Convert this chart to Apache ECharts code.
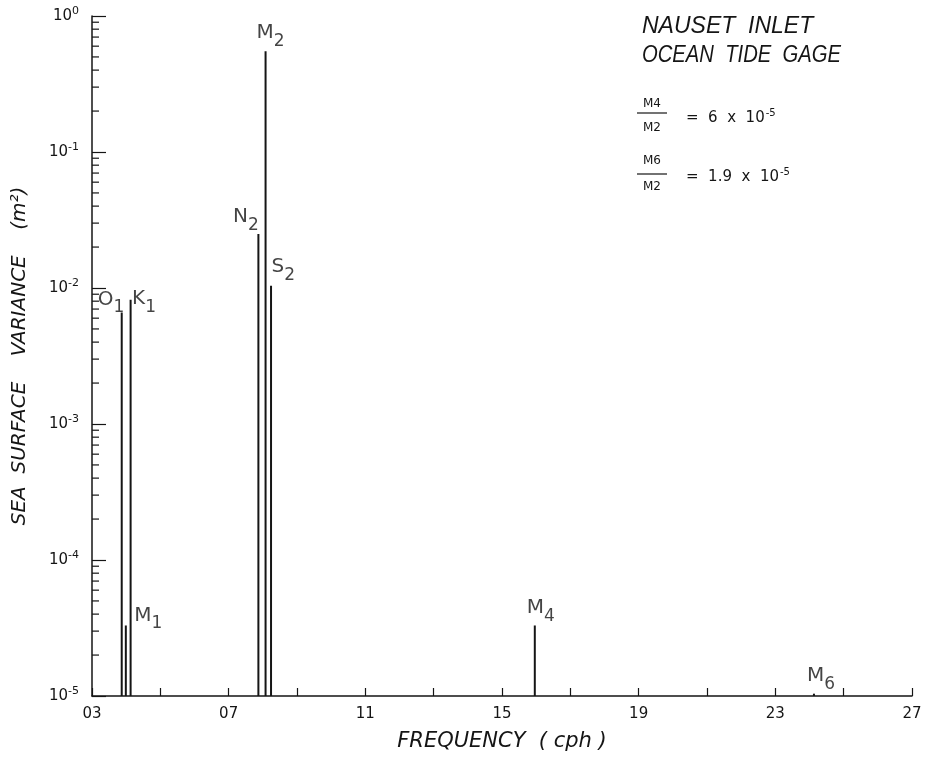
<!DOCTYPE html>
<html>
<head>
<meta charset="utf-8">
<script src="https://cdn.jsdelivr.net/npm/echarts@6/dist/echarts.min.js"></script>
<style>
  html, body { margin: 0; padding: 0; background: #fff; }
  #chart { width: 933px; height: 757px; }
</style>
</head>
<body>
<div id="chart"></div>
<script>
// tidal constituents (frequency in 10^-2 cph, variance in m^2)
var constituents = ['O1', 'M1', 'K1', 'N2', 'M2', 'S2', 'M4', 'M6'];
var frequencies = [3.87, 3.99, 4.13, 7.87, 8.08, 8.24, 15.96, 24.13];
var variances = [6.6e-3, 3.3e-5, 8.2e-3, 2.5e-2, 5.5e-1, 1.04e-2, 3.3e-5, 1.04e-5];

var xLabelValues = [3, 7, 11, 15, 19, 23, 27];
var yDecades = [-5, -4, -3, -2, -1, 0];

var yMin = 1e-5;
var ink = '#151515';
var font = 'DejaVu Sans';

// where each constituent label sits relative to the top of its line
var labelPlace = {
  O1: { position: 'left', distance: 0, offset: [3, -13] },
  M1: { position: 'right', distance: 8, offset: [0, -10] },
  K1: { position: 'right', distance: 1, offset: [0, -1] },
  N2: { position: 'left', distance: 0, offset: [1, -17] },
  M2: { position: 'top', distance: 1, offset: [5, 0] },
  S2: { position: 'right', distance: 0, offset: [0, -19] },
  M4: { position: 'top', distance: 0, offset: [6, 0] },
  M6: { position: 'top', distance: 0, offset: [7, 0] }
};

var lineData = [];
var labelData = [];
for (var i = 0; i < constituents.length; i++) {
  lineData.push([frequencies[i], variances[i]]);
  var name = constituents[i];
  var p = labelPlace[name];
  labelData.push({
    value: [frequencies[i], variances[i]],
    label: {
      position: p.position,
      distance: p.distance,
      offset: p.offset,
      formatter: '{m|' + name.charAt(0) + '}{s|' + name.substring(1) + '}'
    }
  });
}

// minor log ticks 2..9 in each decade
var minorTicks = [];
for (var d = 0; d < yDecades.length - 1; d++) {
  for (var k = 2; k <= 9; k++) {
    minorTicks.push([3, k * Math.pow(10, yDecades[d])]);
  }
}

var myChart = echarts.init(document.getElementById('chart'));
var option = {
  backgroundColor: '#fff',
  animation: false,
  grid: { left: 92, right: 21, top: 16, bottom: 60 },
  xAxis: {
    type: 'value',
    min: 3,
    max: 27,
    interval: 2,
    name: 'FREQUENCY  ( cph )',
    nameLocation: 'middle',
    nameGap: 35,
    nameTextStyle: { fontFamily: font, fontStyle: 'italic', fontSize: 21, color: ink },
    axisLine: { lineStyle: { color: ink, width: 1.5 } },
    axisTick: { inside: true, length: 8, lineStyle: { color: ink, width: 1.2 } },
    splitLine: { show: false },
    axisLabel: {
      margin: 11,
      fontFamily: font,
      fontSize: 15,
      color: ink,
      formatter: function (v) {
        if (xLabelValues.indexOf(v) < 0) return '';
        return (v < 10 ? '0' : '') + v;
      }
    }
  },
  yAxis: {
    type: 'log',
    logBase: 10,
    min: 1e-5,
    max: 1,
    interval: 1,
    name: 'SEA  SURFACE    VARIANCE    (m\u00B2)',
    nameLocation: 'middle',
    nameGap: 62,
    nameTextStyle: { fontFamily: font, fontStyle: 'italic', fontSize: 20, color: ink },
    axisLine: { show: true, lineStyle: { color: ink, width: 1.5 } },
    axisTick: { inside: true, length: 14, lineStyle: { color: ink, width: 1.2 } },
    splitLine: { show: false },
    axisLabel: {
      margin: 13,
      color: ink,
      formatter: function (v) {
        var e = Math.round(Math.log(v) / Math.LN10);
        return '{b|10}{e|' + (e < 0 ? '-' + (-e) : e) + '}';
      },
      rich: {
        b: { fontFamily: font, fontSize: 15, color: ink },
        e: { fontFamily: font, fontSize: 11, color: ink, padding: [0, 0, 10, 0] }
      }
    }
  },
  series: [
    {
      type: 'custom',
      name: 'minor ticks',
      silent: true,
      clip: false,
      data: minorTicks,
      renderItem: function (params, api) {
        var pt = api.coord([api.value(0), api.value(1)]);
        return {
          type: 'line',
          shape: { x1: pt[0], y1: pt[1], x2: pt[0] + 7, y2: pt[1] },
          style: { stroke: ink, lineWidth: 1.2 }
        };
      }
    },
    {
      type: 'custom',
      name: 'spectrum',
      silent: true,
      data: lineData,
      renderItem: function (params, api) {
        var top = api.coord([api.value(0), api.value(1)]);
        var base = api.coord([api.value(0), yMin]);
        return {
          type: 'line',
          shape: { x1: top[0], y1: base[1], x2: top[0], y2: top[1] },
          style: { stroke: ink, lineWidth: 2 }
        };
      }
    },
    {
      type: 'scatter',
      name: 'labels',
      silent: true,
      symbolSize: 1,
      itemStyle: { color: 'rgba(0,0,0,0)' },
      data: labelData,
      label: {
        show: true,
        color: ink,
        rich: {
          m: { fontFamily: font, fontSize: 20, color: ink },
          s: { fontFamily: font, fontSize: 17, color: ink, padding: [17, 0, 0, 0] }
        }
      }
    }
  ],
  graphic: [
    {
      type: 'text', left: 642, top: 15,
      style: { text: 'NAUSET  INLET', fontFamily: 'Liberation Sans', fontStyle: 'italic', fontSize: 23, fill: ink }
    },
    {
      type: 'text', left: 642, top: 44, scaleX: 0.88,
      style: { text: 'OCEAN  TIDE  GAGE', fontFamily: 'Liberation Sans', fontStyle: 'italic', fontSize: 23, fill: ink }
    },
    {
      type: 'text', x: 652, y: 104,
      style: { text: 'M4', fontFamily: font, fontSize: 12, fill: ink, align: 'center', verticalAlign: 'middle' }
    },
    {
      type: 'line', shape: { x1: 637, y1: 113, x2: 667, y2: 113 }, style: { stroke: ink, lineWidth: 1.2 }
    },
    {
      type: 'text', x: 652, y: 128,
      style: { text: 'M2', fontFamily: font, fontSize: 12, fill: ink, align: 'center', verticalAlign: 'middle' }
    },
    {
      type: 'text', x: 686, y: 118,
      style: {
        text: '=  6  x  10{sup|-5}', fontFamily: font, fontSize: 15, fill: ink, verticalAlign: 'middle',
        rich: { sup: { fontFamily: font, fontSize: 10, fill: ink, padding: [0, 0, 10, 1] } }
      }
    },
    {
      type: 'text', x: 652, y: 161,
      style: { text: 'M6', fontFamily: font, fontSize: 12, fill: ink, align: 'center', verticalAlign: 'middle' }
    },
    {
      type: 'line', shape: { x1: 637, y1: 174, x2: 667, y2: 174 }, style: { stroke: ink, lineWidth: 1.2 }
    },
    {
      type: 'text', x: 652, y: 187,
      style: { text: 'M2', fontFamily: font, fontSize: 12, fill: ink, align: 'center', verticalAlign: 'middle' }
    },
    {
      type: 'text', x: 686, y: 177,
      style: {
        text: '=  1.9  x  10{sup|-5}', fontFamily: font, fontSize: 15, fill: ink, verticalAlign: 'middle',
        rich: { sup: { fontFamily: font, fontSize: 10, fill: ink, padding: [0, 0, 10, 1] } }
      }
    }
  ]
};
myChart.setOption(option);
window.addEventListener('resize', function () {
  myChart.resize();
});
</script>
</body>
</html>
